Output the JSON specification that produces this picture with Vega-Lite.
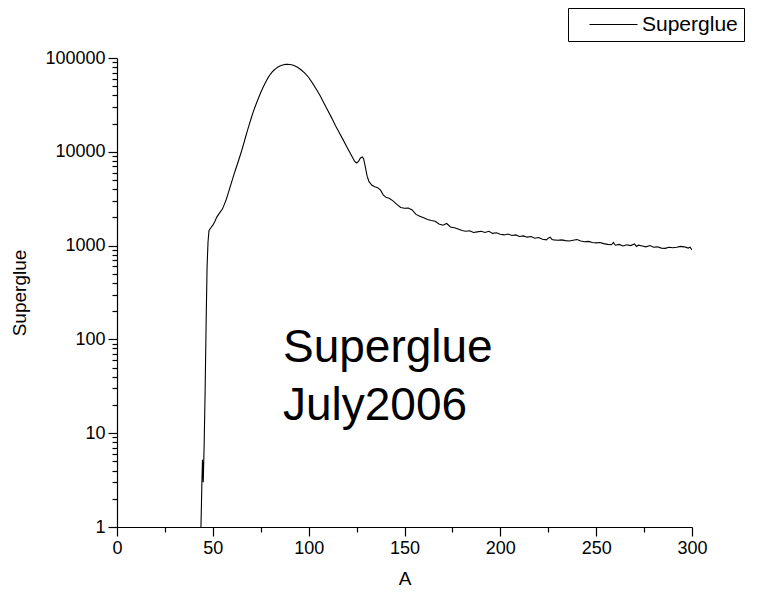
{
  "$schema": "https://vega.github.io/schema/vega-lite/v6.json",
  "width": 575,
  "height": 469,
  "autosize": {"type": "none"},
  "padding": {"left": 117, "top": 58, "right": 65, "bottom": 65},
  "background": "white",
  "config": {
    "view": {"stroke": null},
    "font": "Liberation Sans",
    "axis": {
      "domainColor": "black",
      "domainWidth": 1.2,
      "tickColor": "black",
      "tickWidth": 1.2,
      "grid": false,
      "labelColor": "black",
      "titleColor": "black",
      "labelFont": "Liberation Sans",
      "titleFont": "Liberation Sans",
      "labelFontSize": 18,
      "titleFontSize": 19,
      "titleFontWeight": "normal",
      "labelOverlap": false
    }
  },
  "layer": [
    {
      "data": {
        "values": [
          {"A": 43.8, "Superglue": 1},
          {"A": 44.3, "Superglue": 3},
          {"A": 44.6, "Superglue": 5.2},
          {"A": 45.0, "Superglue": 3.0},
          {"A": 45.5, "Superglue": 8},
          {"A": 46.0, "Superglue": 30},
          {"A": 46.5, "Superglue": 150},
          {"A": 47.0, "Superglue": 600},
          {"A": 47.5, "Superglue": 1100},
          {"A": 48.0, "Superglue": 1450},
          {"A": 49, "Superglue": 1550},
          {"A": 50, "Superglue": 1650},
          {"A": 51, "Superglue": 1800},
          {"A": 52, "Superglue": 2000},
          {"A": 53, "Superglue": 2150},
          {"A": 54, "Superglue": 2300},
          {"A": 55, "Superglue": 2450},
          {"A": 56, "Superglue": 2750},
          {"A": 57, "Superglue": 3100},
          {"A": 58, "Superglue": 3600},
          {"A": 59, "Superglue": 4200},
          {"A": 60, "Superglue": 4900},
          {"A": 61, "Superglue": 5700},
          {"A": 62, "Superglue": 6600},
          {"A": 63, "Superglue": 7600},
          {"A": 64, "Superglue": 8800},
          {"A": 65, "Superglue": 10200},
          {"A": 66, "Superglue": 12000},
          {"A": 67, "Superglue": 14200},
          {"A": 68, "Superglue": 16700},
          {"A": 69, "Superglue": 19500},
          {"A": 70, "Superglue": 22800},
          {"A": 71, "Superglue": 26300},
          {"A": 72, "Superglue": 30000},
          {"A": 73, "Superglue": 34000},
          {"A": 74, "Superglue": 38200},
          {"A": 75, "Superglue": 42800},
          {"A": 76, "Superglue": 47500},
          {"A": 77, "Superglue": 52500},
          {"A": 78, "Superglue": 57500},
          {"A": 79, "Superglue": 62500},
          {"A": 80, "Superglue": 67000},
          {"A": 81, "Superglue": 71000},
          {"A": 82, "Superglue": 74500},
          {"A": 83, "Superglue": 77500},
          {"A": 84, "Superglue": 80000},
          {"A": 85, "Superglue": 82000},
          {"A": 86, "Superglue": 83700},
          {"A": 87, "Superglue": 84800},
          {"A": 88, "Superglue": 85500},
          {"A": 89, "Superglue": 85700},
          {"A": 90, "Superglue": 85400},
          {"A": 91, "Superglue": 84700},
          {"A": 92, "Superglue": 83500},
          {"A": 94, "Superglue": 80000},
          {"A": 96, "Superglue": 75000},
          {"A": 98, "Superglue": 69000},
          {"A": 100, "Superglue": 62000},
          {"A": 102, "Superglue": 54000},
          {"A": 104, "Superglue": 46500},
          {"A": 106, "Superglue": 39500},
          {"A": 108, "Superglue": 33000},
          {"A": 110, "Superglue": 27500},
          {"A": 112, "Superglue": 23000},
          {"A": 114, "Superglue": 19000},
          {"A": 116, "Superglue": 16000},
          {"A": 118, "Superglue": 13400},
          {"A": 120, "Superglue": 11200},
          {"A": 122, "Superglue": 9400},
          {"A": 124, "Superglue": 7900},
          {"A": 125, "Superglue": 7600},
          {"A": 126, "Superglue": 7900},
          {"A": 127, "Superglue": 8600},
          {"A": 128, "Superglue": 8800},
          {"A": 128.7, "Superglue": 8400},
          {"A": 129.5, "Superglue": 7000},
          {"A": 130.5, "Superglue": 5500},
          {"A": 131.5, "Superglue": 4800},
          {"A": 133, "Superglue": 4400},
          {"A": 134.5, "Superglue": 4250},
          {"A": 136, "Superglue": 4150},
          {"A": 137.5, "Superglue": 3900},
          {"A": 139, "Superglue": 3450},
          {"A": 140.5, "Superglue": 3250},
          {"A": 142, "Superglue": 3200},
          {"A": 144, "Superglue": 3000},
          {"A": 146, "Superglue": 2750},
          {"A": 148, "Superglue": 2550},
          {"A": 150, "Superglue": 2500},
          {"A": 152, "Superglue": 2520},
          {"A": 154, "Superglue": 2400},
          {"A": 156, "Superglue": 2150},
          {"A": 158, "Superglue": 2050},
          {"A": 160, "Superglue": 1980},
          {"A": 162, "Superglue": 1900},
          {"A": 164, "Superglue": 1850},
          {"A": 166, "Superglue": 1820},
          {"A": 168, "Superglue": 1700},
          {"A": 170, "Superglue": 1650},
          {"A": 172, "Superglue": 1720},
          {"A": 174, "Superglue": 1580},
          {"A": 176, "Superglue": 1550},
          {"A": 178, "Superglue": 1500},
          {"A": 180, "Superglue": 1450},
          {"A": 182, "Superglue": 1420},
          {"A": 184, "Superglue": 1440},
          {"A": 186, "Superglue": 1380},
          {"A": 188, "Superglue": 1400},
          {"A": 190, "Superglue": 1420},
          {"A": 192, "Superglue": 1380},
          {"A": 194, "Superglue": 1420},
          {"A": 196, "Superglue": 1350},
          {"A": 198, "Superglue": 1370},
          {"A": 200, "Superglue": 1320},
          {"A": 202, "Superglue": 1300},
          {"A": 204, "Superglue": 1330},
          {"A": 206, "Superglue": 1280},
          {"A": 208, "Superglue": 1300},
          {"A": 210, "Superglue": 1250},
          {"A": 212, "Superglue": 1270},
          {"A": 214, "Superglue": 1230},
          {"A": 216, "Superglue": 1250},
          {"A": 218, "Superglue": 1200},
          {"A": 220, "Superglue": 1220},
          {"A": 222, "Superglue": 1170},
          {"A": 224, "Superglue": 1150},
          {"A": 225, "Superglue": 1200},
          {"A": 226, "Superglue": 1230},
          {"A": 227, "Superglue": 1160},
          {"A": 228, "Superglue": 1150},
          {"A": 230, "Superglue": 1140},
          {"A": 232, "Superglue": 1150},
          {"A": 234, "Superglue": 1130},
          {"A": 236, "Superglue": 1120},
          {"A": 238, "Superglue": 1140},
          {"A": 240, "Superglue": 1160},
          {"A": 242, "Superglue": 1120},
          {"A": 244, "Superglue": 1100},
          {"A": 246, "Superglue": 1110},
          {"A": 248, "Superglue": 1080},
          {"A": 250, "Superglue": 1070},
          {"A": 252, "Superglue": 1080},
          {"A": 254, "Superglue": 1050},
          {"A": 256, "Superglue": 1030},
          {"A": 258, "Superglue": 1020},
          {"A": 259, "Superglue": 1080},
          {"A": 260, "Superglue": 1010},
          {"A": 262, "Superglue": 1030},
          {"A": 264, "Superglue": 990},
          {"A": 266, "Superglue": 1020},
          {"A": 268, "Superglue": 1000},
          {"A": 270, "Superglue": 1040},
          {"A": 271, "Superglue": 980},
          {"A": 272, "Superglue": 1010},
          {"A": 274, "Superglue": 990},
          {"A": 276, "Superglue": 970},
          {"A": 278, "Superglue": 1000},
          {"A": 280, "Superglue": 960},
          {"A": 282, "Superglue": 970},
          {"A": 284, "Superglue": 940},
          {"A": 286, "Superglue": 935},
          {"A": 288, "Superglue": 960},
          {"A": 290, "Superglue": 950},
          {"A": 292, "Superglue": 960},
          {"A": 294, "Superglue": 980},
          {"A": 296, "Superglue": 970},
          {"A": 298, "Superglue": 940},
          {"A": 299, "Superglue": 960},
          {"A": 300, "Superglue": 900}
        ]
      },
      "mark": {"type": "line", "strokeWidth": 1.1, "clip": true},
      "encoding": {
        "x": {
          "field": "A",
          "type": "quantitative",
          "scale": {"domain": [0, 300], "nice": false},
          "axis": {
            "title": "A",
            "values": [0, 25, 50, 75, 100, 125, 150, 175, 200, 225, 250, 275, 300],
            "labelExpr": "datum.value % 50 == 0 ? datum.label : ''",
            "tickSize": {"condition": {"test": "datum.value % 50 == 0", "value": 9}, "value": 5},
            "labelPadding": 3,
            "titlePadding": 12,
            "labelFlush": false
          }
        },
        "y": {
          "field": "Superglue",
          "type": "quantitative",
          "scale": {"type": "log", "domain": [1, 100000], "nice": false},
          "axis": {
            "title": "Superglue",
            "format": "d",
            "values": [1, 2, 3, 4, 5, 6, 7, 8, 9, 10, 20, 30, 40, 50, 60, 70, 80, 90, 100, 200, 300, 400, 500, 600, 700, 800, 900, 1000, 2000, 3000, 4000, 5000, 6000, 7000, 8000, 9000, 10000, 20000, 30000, 40000, 50000, 60000, 70000, 80000, 90000, 100000],
            "labelExpr": "(datum.value == 1 || datum.value == 10 || datum.value == 100 || datum.value == 1000 || datum.value == 10000 || datum.value == 100000) ? datum.label : ''",
            "tickSize": {"condition": {"test": "datum.value == 1 || datum.value == 10 || datum.value == 100 || datum.value == 1000 || datum.value == 10000 || datum.value == 100000", "value": 9}, "value": 5},
            "labelPadding": 3,
            "titlePadding": 15,
            "labelFlush": false
          }
        },
        "color": {
          "datum": "Superglue",
          "type": "nominal",
          "scale": {"range": ["black"]},
          "legend": {
            "title": null,
            "orient": "none",
            "legendX": 451,
            "legendY": -50,
            "padding": 6,
            "strokeColor": "black",
            "fillColor": "white",
            "symbolType": "M-3,0H3",
            "symbolSize": 256,
            "symbolStrokeWidth": 1,
            "symbolOffset": 29,
            "labelFontSize": 21,
            "labelFont": "Liberation Sans",
            "labelColor": "black",
            "labelOffset": 18,
            "labelExpr": "datum.label + '  '"
          }
        }
      }
    },
    {
      "data": {"values": [{"A": 86.6, "Superglue": 57, "note": ["Superglue", "July2006"]}]},
      "mark": {"type": "text", "align": "left", "baseline": "alphabetic", "fontSize": 46, "lineHeight": 58, "font": "Liberation Sans", "color": "black"},
      "encoding": {
        "x": {"field": "A", "type": "quantitative"},
        "y": {"field": "Superglue", "type": "quantitative"},
        "text": {"field": "note"}
      }
    }
  ]
}
